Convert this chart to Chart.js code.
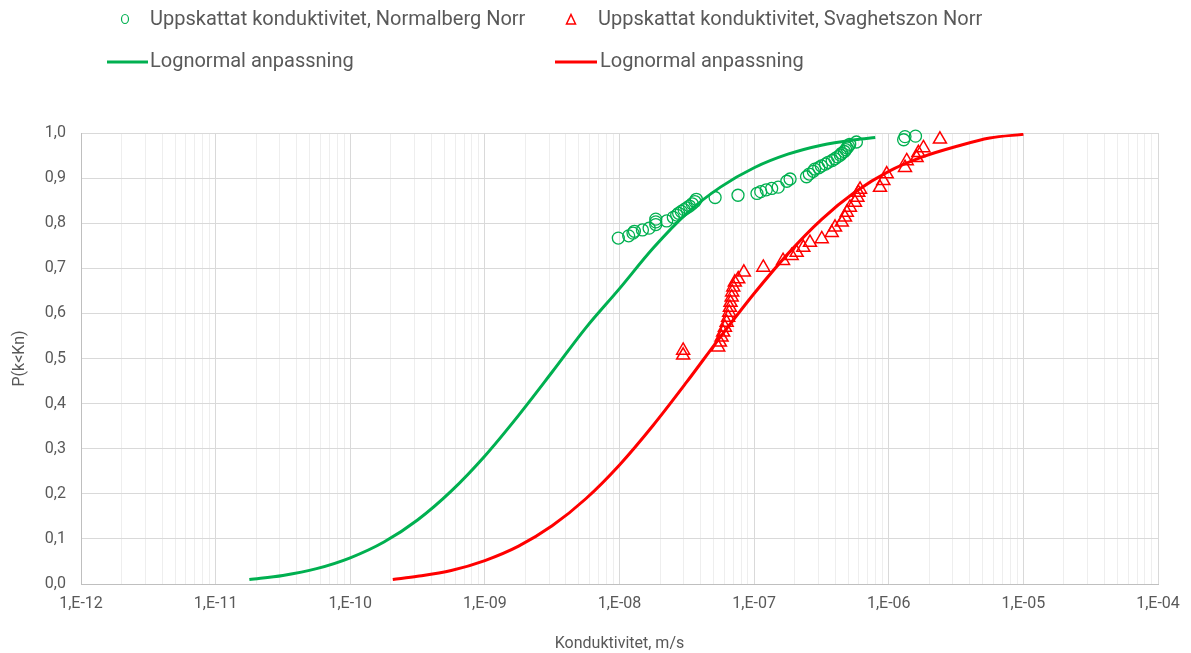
<!DOCTYPE html>
<html>
<head>
<meta charset="utf-8">
<script src="https://cdn.jsdelivr.net/npm/chart.js@4.4.1/dist/chart.umd.min.js"></script>
<style>
  html, body { margin: 0; padding: 0; background: #ffffff; }
  #wrap { width: 1191px; height: 653px; position: relative; }
</style>
</head>
<body>
<div id="wrap"><canvas id="c" width="1191" height="653"></canvas></div>
<script>
// ---------- DATA ----------
const legendLabels = [
  'Uppskattat konduktivitet, Normalberg Norr',
  'Uppskattat konduktivitet, Svaghetszon Norr',
  'Lognormal anpassning',
  'Lognormal anpassning'
];
const xTitle = 'Konduktivitet, m/s';
const yTitle = 'P(k<Kn)';
const xTickLabels = ['1,E-12','1,E-11','1,E-10','1,E-09','1,E-08','1,E-07','1,E-06','1,E-05','1,E-04'];
const yTickLabels = ['0,0','0,1','0,2','0,3','0,4','0,5','0,6','0,7','0,8','0,9','1,0'];

// Normalberg Norr – estimated conductivity (m/s) and probability
const normalK = [9.8e-9, 1.17e-8, 1.26e-8, 1.29e-8, 1.48e-8, 1.66e-8, 1.86e-8, 1.86e-8, 1.86e-8, 2.24e-8,
  2.51e-8, 2.66e-8, 2.75e-8, 2.88e-8, 3.02e-8, 3.16e-8, 3.31e-8, 3.47e-8, 3.63e-8, 3.72e-8,
  5.13e-8, 7.59e-8, 1.05e-7, 1.12e-7, 1.23e-7, 1.35e-7, 1.51e-7, 1.75e-7, 1.85e-7, 2.45e-7,
  2.57e-7, 2.75e-7, 2.82e-7, 3.02e-7, 3.16e-7, 3.39e-7, 3.55e-7, 3.80e-7, 3.98e-7, 4.17e-7,
  4.37e-7, 4.47e-7, 4.68e-7, 4.79e-7, 4.90e-7, 5.01e-7, 5.13e-7, 5.75e-7, 1.29e-6, 1.32e-6, 1.58e-6];
const normalP = [0.767, 0.772, 0.778, 0.782, 0.785, 0.789, 0.797, 0.803, 0.809, 0.805,
  0.813, 0.818, 0.822, 0.826, 0.830, 0.834, 0.838, 0.843, 0.848, 0.853,
  0.857, 0.862, 0.866, 0.870, 0.874, 0.877, 0.880, 0.893, 0.898, 0.903,
  0.909, 0.915, 0.920, 0.923, 0.927, 0.931, 0.935, 0.939, 0.943, 0.947,
  0.951, 0.955, 0.959, 0.963, 0.967, 0.971, 0.975, 0.980, 0.985, 0.992, 0.993];

// Svaghetszon Norr – estimated conductivity (m/s) and probability
const weakK = [2.97e-8, 2.97e-8, 5.41e-8, 5.57e-8, 5.73e-8, 5.89e-8, 6.07e-8, 6.25e-8, 6.41e-8, 6.53e-8,
  6.61e-8, 6.68e-8, 6.81e-8, 6.87e-8, 7.0e-8, 7.19e-8, 7.62e-8, 8.39e-8, 1.17e-7, 1.64e-7,
  1.90e-7, 2.07e-7, 2.32e-7, 2.60e-7, 3.18e-7, 3.77e-7, 3.99e-7, 4.48e-7, 4.73e-7, 4.88e-7,
  5.15e-7, 5.61e-7, 5.85e-7, 5.94e-7, 6.12e-7, 8.61e-7, 9.12e-7, 9.66e-7, 1.32e-6, 1.36e-6,
  1.61e-6, 1.66e-6, 1.81e-6, 2.40e-6];
const weakP = [0.507, 0.518, 0.525, 0.536, 0.547, 0.558, 0.569, 0.580, 0.591, 0.602,
  0.613, 0.624, 0.636, 0.647, 0.658, 0.669, 0.676, 0.691, 0.702, 0.717,
  0.728, 0.735, 0.746, 0.757, 0.765, 0.779, 0.791, 0.802, 0.813, 0.824,
  0.835, 0.846, 0.857, 0.868, 0.875, 0.879, 0.894, 0.909, 0.923, 0.938,
  0.945, 0.956, 0.967, 0.986];

// Lognormal fit curves
const normalFitK = [1.78e-11, 3.16e-11, 5.62e-11, 1.0e-10, 1.78e-10, 3.16e-10, 5.62e-10, 1.0e-9, 1.78e-9, 3.16e-9,
  5.62e-9, 1.0e-8, 1.78e-8, 3.16e-8, 5.62e-8, 1.0e-7, 1.78e-7, 3.16e-7, 5.62e-7, 7.94e-7];
const normalFitP = [0.010, 0.019, 0.034, 0.058, 0.093, 0.142, 0.206, 0.284, 0.374, 0.470,
  0.568, 0.655, 0.745, 0.822, 0.880, 0.923, 0.953, 0.973, 0.985, 0.990];
const weakFitK = [2.07e-10, 3.16e-10, 5.62e-10, 1.0e-9, 1.78e-9, 3.16e-9, 5.62e-9, 1.0e-8, 1.78e-8, 3.16e-8,
  5.62e-8, 1.0e-7, 1.78e-7, 3.16e-7, 5.62e-7, 1.0e-6, 1.78e-6, 3.16e-6, 5.62e-6, 1.0e-5];
const weakFitP = [0.010, 0.017, 0.030, 0.052, 0.084, 0.129, 0.189, 0.264, 0.352, 0.448,
  0.548, 0.644, 0.732, 0.808, 0.869, 0.915, 0.947, 0.970, 0.989, 0.997];

// ---------- STYLE ----------
const GREEN = '#00B050';
const RED = '#FF0000';
const TEXT = '#595959';
const FONT = 'Roboto, "Liberation Sans", sans-serif';

const pairs = (xs, ys) => xs.map((x, i) => ({ x: x, y: ys[i] }));
const isDecade = v => { const e = Math.log10(v); return Math.abs(e - Math.round(e)) < 1e-6; };

const legendPlugin = {
  id: 'customLegend',
  afterDraw(chart) {
    const ctx = chart.ctx;
    ctx.save();
    ctx.font = '20px ' + FONT;
    ctx.fillStyle = TEXT;
    ctx.textBaseline = 'middle';
    ctx.textAlign = 'left';
    ctx.lineWidth = 1.2;
    ctx.strokeStyle = GREEN;
    ctx.beginPath();
    ctx.ellipse(125, 19, 3.5, 4.5, 0, 0, Math.PI * 2);
    ctx.stroke();
    ctx.fillText(legendLabels[0], 150, 20);
    ctx.strokeStyle = RED;
    ctx.lineWidth = 1.5;
    ctx.beginPath();
    ctx.moveTo(571, 14.5); ctx.lineTo(575.5, 24); ctx.lineTo(566.5, 24); ctx.closePath();
    ctx.stroke();
    ctx.fillText(legendLabels[1], 598, 20);
    ctx.lineWidth = 3;
    ctx.strokeStyle = GREEN;
    ctx.beginPath(); ctx.moveTo(107, 62); ctx.lineTo(148, 62); ctx.stroke();
    ctx.fillText(legendLabels[2], 150, 62);
    ctx.strokeStyle = RED;
    ctx.beginPath(); ctx.moveTo(555, 62); ctx.lineTo(597, 62); ctx.stroke();
    ctx.fillText(legendLabels[3], 600, 62);
    ctx.restore();
  }
};

const bgPlugin = {
  id: 'bg',
  beforeDraw(chart) {
    const ctx = chart.ctx;
    ctx.save();
    ctx.fillStyle = '#ffffff';
    ctx.fillRect(0, 0, chart.width, chart.height);
    ctx.restore();
  }
};

new Chart(document.getElementById('c'), {
  type: 'scatter',
  data: {
    datasets: [
      { label: legendLabels[2], data: pairs(normalFitK, normalFitP), showLine: true, borderColor: GREEN,
        borderWidth: 3, pointRadius: 0, cubicInterpolationMode: 'monotone', fill: false },
      { label: legendLabels[3], data: pairs(weakFitK, weakFitP), showLine: true, borderColor: RED,
        borderWidth: 3, pointRadius: 0, cubicInterpolationMode: 'monotone', fill: false },
      { label: legendLabels[0], data: pairs(normalK, normalP), pointStyle: 'circle', pointRadius: 6,
        pointBorderWidth: 1.3, pointBorderColor: GREEN, pointBackgroundColor: 'rgba(0,0,0,0)', showLine: false, clip: false },
      { label: legendLabels[1], data: pairs(weakK, weakP), pointStyle: 'triangle', pointRadius: 7.5,
        pointBorderWidth: 1.5, pointBorderColor: RED, pointBackgroundColor: 'rgba(0,0,0,0)', showLine: false, clip: false }
    ]
  },
  options: {
    responsive: false,
    animation: false,
    events: [],
    layout: { padding: { left: 0, right: 33, top: 133, bottom: 0 } },
    plugins: { legend: { display: false }, tooltip: { enabled: false } },
    scales: {
      x: {
        type: 'logarithmic',
        min: 1e-12,
        max: 1e-4,
        afterBuildTicks(scale) {
          const t = [];
          for (let e = -12; e <= -4; e++) {
            for (let k = 1; k <= 9; k++) {
              if (e === -4 && k > 1) break;
              t.push({ value: k * Math.pow(10, e) });
            }
          }
          scale.ticks = t;
        },
        afterFit(scale) { scale.height = 69; },
        ticks: {
          autoSkip: false, maxRotation: 0, minRotation: 0, padding: 10,
          color: TEXT, font: { family: FONT, size: 16 },
          callback(v) { return isDecade(v) ? xTickLabels[Math.round(Math.log10(v)) + 12] : ''; }
        },
        grid: {
          drawTicks: false,
          lineWidth: 1,
          color: c => (c.tick && isDecade(c.tick.value)) ? '#d9d9d9' : '#eeeeee'
        },
        border: { display: true, color: '#bfbfbf', width: 1 },
        title: { display: true, text: xTitle, color: TEXT, font: { family: FONT, size: 16 }, padding: { top: 0, bottom: -1 } }
      },
      y: {
        min: 0, max: 1,
        afterFit(scale) { scale.width = 81; },
        ticks: {
          stepSize: 0.1, padding: 15, color: TEXT, font: { family: FONT, size: 16 },
          callback(v, i) { return yTickLabels[i]; }
        },
        grid: { drawTicks: false, color: '#d9d9d9', lineWidth: 1 },
        border: { display: true, color: '#bfbfbf', width: 1 },
        title: { display: true, text: yTitle, color: TEXT, font: { family: FONT, size: 16 }, padding: { top: 10, bottom: 0 } }
      }
    }
  },
  plugins: [bgPlugin, legendPlugin]
});
</script>
</body>
</html>
